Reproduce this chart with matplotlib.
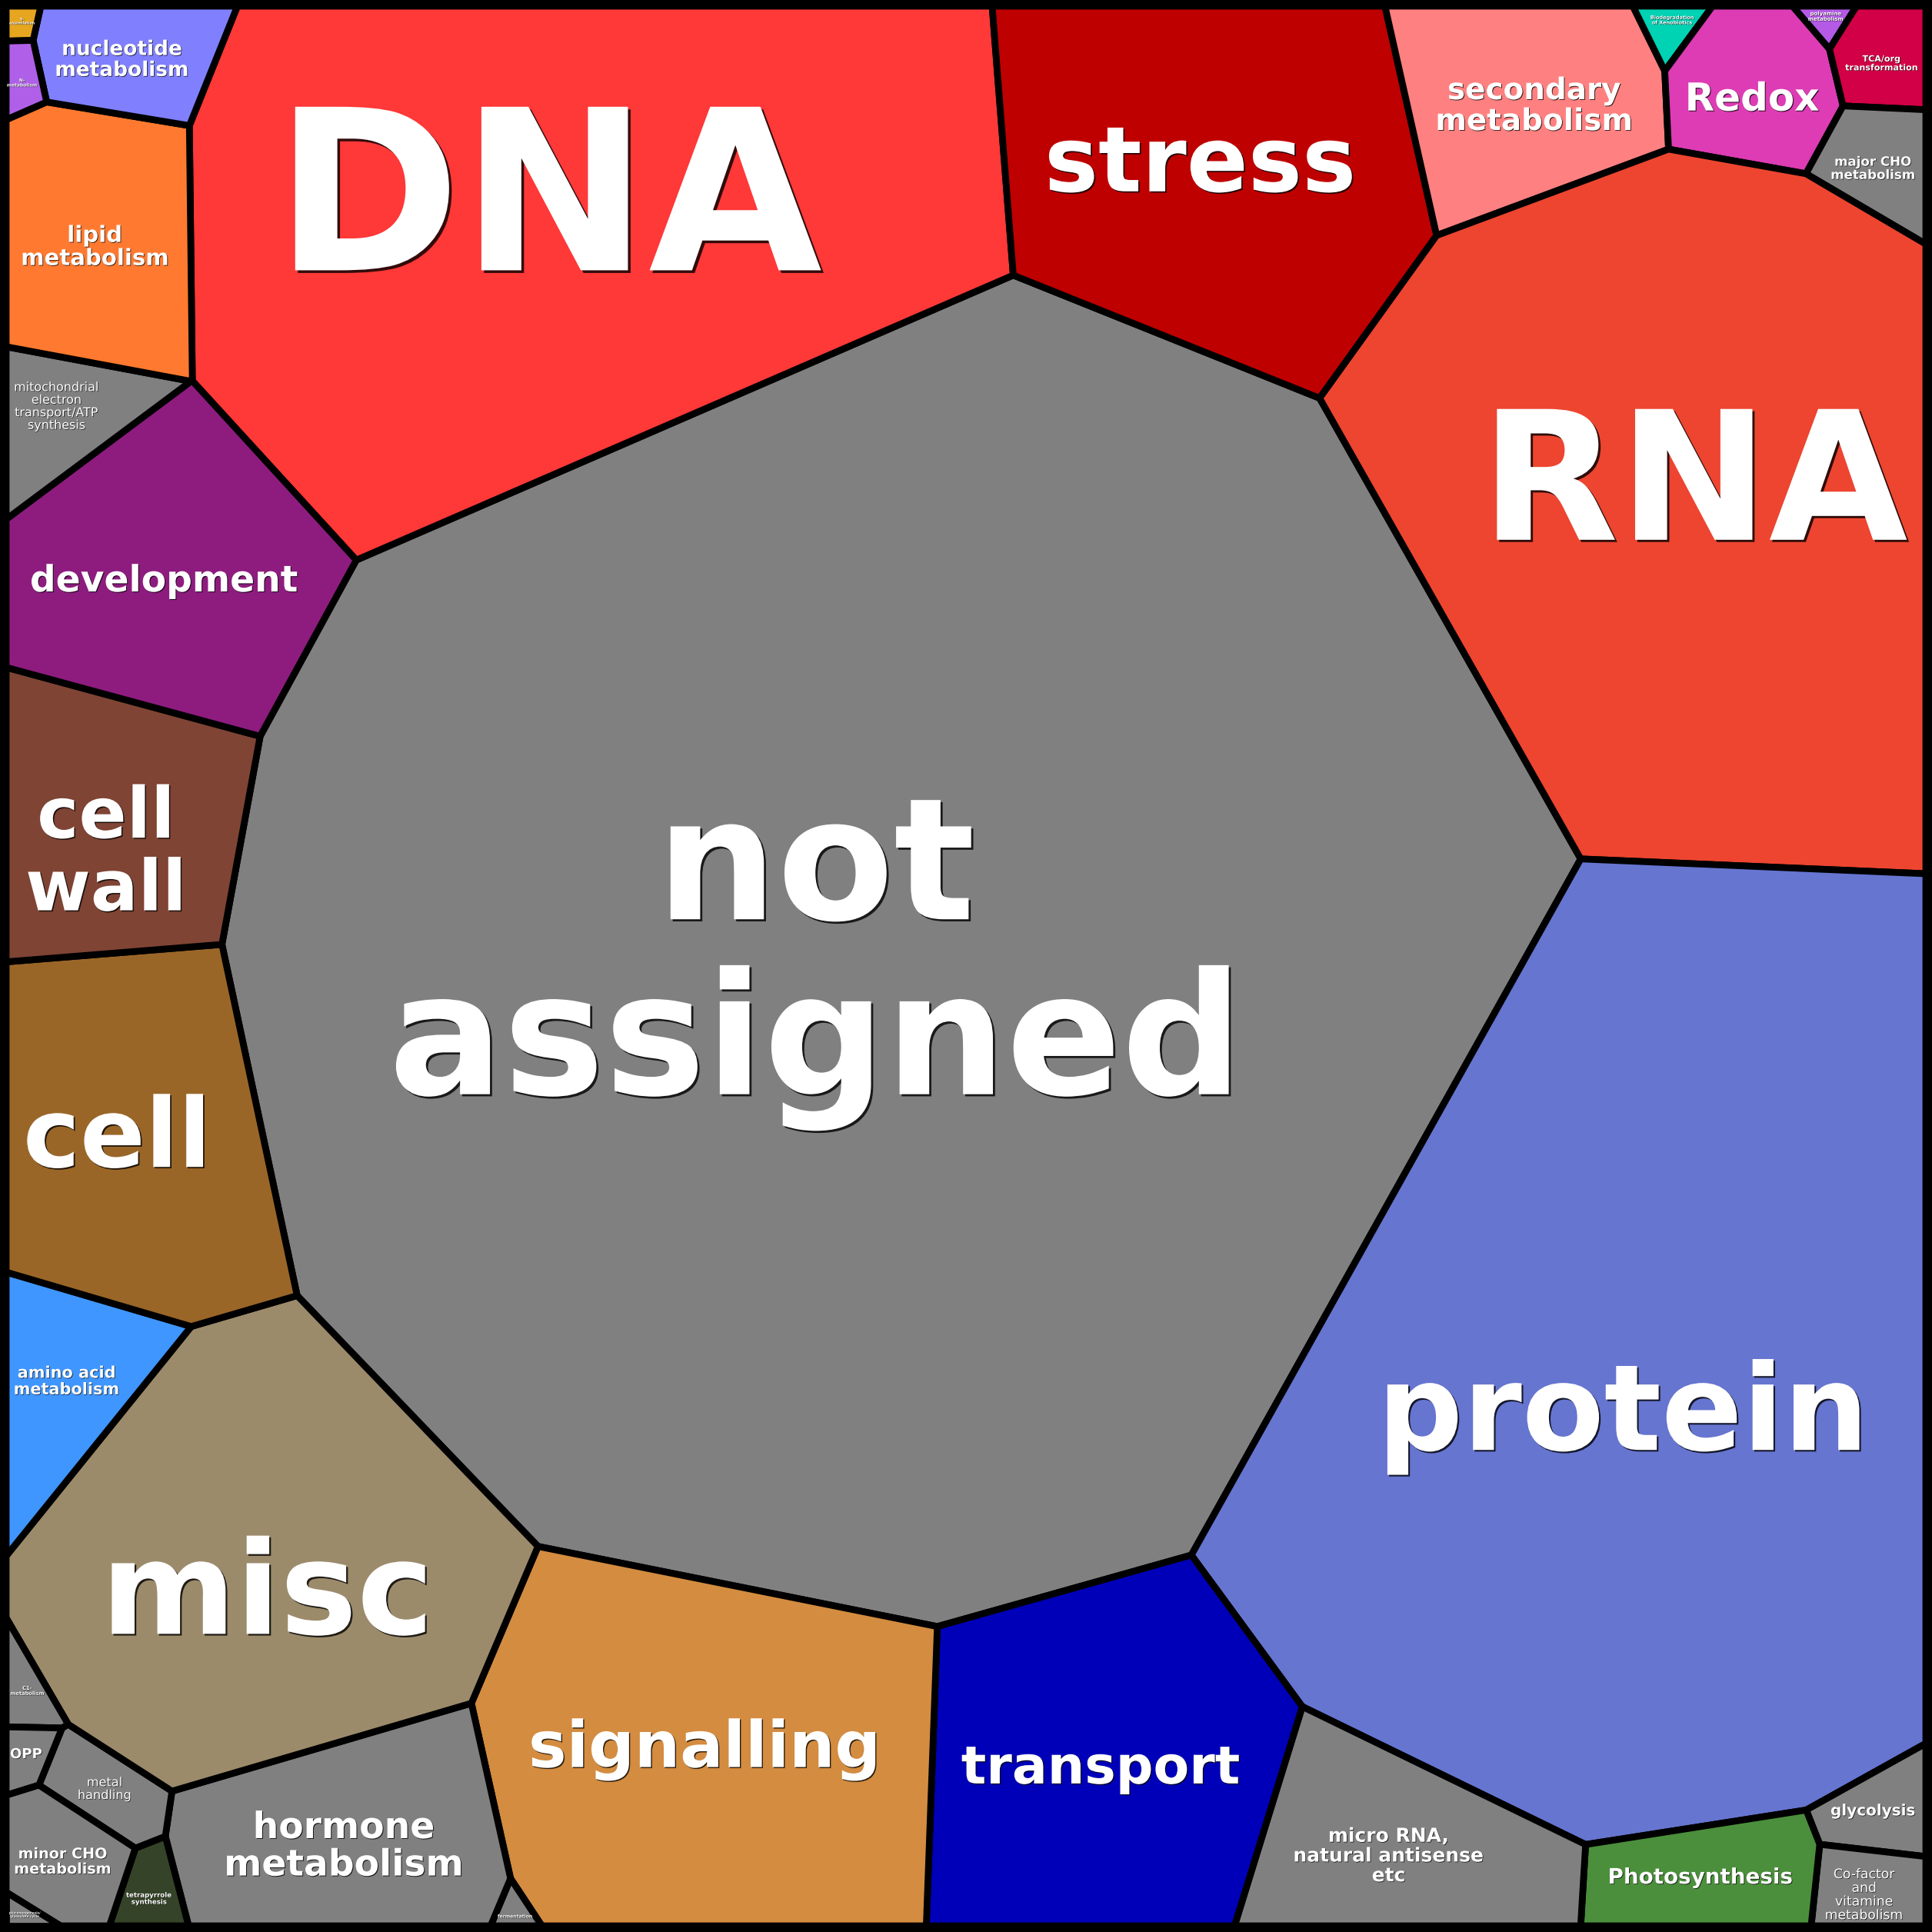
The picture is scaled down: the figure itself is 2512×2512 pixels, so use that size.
import numpy as np
import matplotlib
matplotlib.use("Agg")
import matplotlib.pyplot as plt
from matplotlib.patches import Polygon
from matplotlib.textpath import TextPath
from matplotlib.font_manager import FontProperties
import matplotlib.patheffects as pe

categories = ["not assigned", "DNA", "stress", "secondary metabolism",
              "Biodegradation of Xenobiotics", "Redox", "polyamine metabolism",
              "TCA/org transformation", "major CHO metabolism", "RNA", "protein",
              "glycolysis", "Co-factor and vitamine metabolism", "Photosynthesis",
              "micro RNA, natural antisense etc", "transport", "signalling",
              "fermentation", "hormone metabolism", "tetrapyrrole synthesis",
              "metal handling", "misc", "C1-metabolism", "OPP", "minor CHO metabolism",
              "gluconeogenesis/glyoxylate cycle", "amino acid metabolism", "cell",
              "cell wall", "development", "mitochondrial electron transport/ATP synthesis",
              "lipid metabolism", "nucleotide metabolism", "S-assimilation", "N-metabolism"]
genes = [8549, 2249, 886, 314, 17, 154, 9, 58, 72, 2201, 3495,
         56, 55, 151, 328, 738, 974, 8, 382, 30,
         58, 1117, 23, 18, 86, 6, 173, 589,
         392, 525, 105, 305, 125, 7, 16]
colors = ["#808080", "#FF3838", "#BF0000", "#FF8080", "#00D2B4", "#DD3CB4", "#B45AE6",
          "#D20046", "#808080", "#ED4530", "#6675D0", "#808080", "#808080", "#4B8F3C",
          "#808080", "#0000B8", "#D38C40", "#808080", "#808080", "#354428",
          "#808080", "#9C8B6B", "#808080", "#808080", "#808080", "#808080", "#3F96FF",
          "#9A6628", "#7F4434", "#8E1C7F", "#808080", "#FF7A30", "#8080FF", "#E6A620",
          "#B060E8"]
labels = ["not\nassigned", "DNA", "stress", "secondary\nmetabolism",
          "Biodegradation\nof Xenobiotics", "Redox", "polyamine\nmetabolism",
          "TCA/org\ntransformation", "major CHO\nmetabolism", "RNA", "protein",
          "glycolysis", "Co-factor\nand\nvitamine\nmetabolism", "Photosynthesis",
          "micro RNA,\nnatural antisense\netc", "transport", "signalling",
          "fermentation", "hormone\nmetabolism", "tetrapyrrole\nsynthesis",
          "metal\nhandling", "misc", "C1-\nmetabolism", "OPP", "minor CHO\nmetabolism",
          "gluconeogenesis/\nglyoxylate cycle", "amino acid\nmetabolism", "cell",
          "cell\nwall", "development", "mitochondrial\nelectron\ntransport/ATP\nsynthesis",
          "lipid\nmetabolism", "nucleotide\nmetabolism", "S-\nassimilation", "N-\nmetabolism"]

# seeds of the Voronoi treemap (fraction of the square, y from top)
site_x = [0.4552, 0.2886, 0.6199, 0.7864, 0.8627, 0.9057, 0.947, 0.9764, 0.9739,
          0.8663, 0.8469, 0.9717, 0.9669, 0.8872, 0.7263, 0.5732, 0.3725, 0.255,
          0.1752, 0.0682, 0.05, 0.1323, 0.0146, 0.0137, 0.0285, 0.012, 0.0249,
          0.0661, 0.0534, 0.0878, 0.0223, 0.0397, 0.0557, 0.002, 0.0026]
site_y = [0.4983, 0.1141, 0.0881, 0.0506, 0.0131, 0.0448, 0.0093, 0.0279, 0.0821,
          0.2653, 0.7174, 0.9416, 0.9833, 0.9749, 0.9651, 0.9178, 0.9104, 0.988,
          0.9545, 0.9823, 0.9361, 0.8084, 0.877, 0.9214, 0.969, 0.9957, 0.7218,
          0.5816, 0.4246, 0.2978, 0.2101, 0.117, 0.0205, 0.0085, 0.0322]

# label anchors (centre of the text block)
label_x = [0.4217, 0.2824, 0.6220, 0.7959, 0.8678, 0.9095, 0.9480, 0.9769, 0.9724,
           0.8793, 0.8421, 0.9724, 0.9679, 0.8825, 0.7202, 0.5700, 0.3639, 0.2651,
           0.1759, 0.0745, 0.0513, 0.1361, 0.0109, 0.0103, 0.0295, 0.0096, 0.0315,
           0.0578, 0.0520, 0.0822, 0.0263, 0.0462, 0.0603, 0.0083, 0.0083]
label_y = [0.4997, 0.0950, 0.0802, 0.0507, 0.0071, 0.0469, 0.0051, 0.0295, 0.0841,
           0.2439, 0.7349, 0.9403, 0.9833, 0.9750, 0.9628, 0.9191, 0.9082, 0.9949,
           0.9570, 0.9859, 0.9288, 0.8228, 0.8774, 0.9101, 0.9660, 0.9942, 0.7157,
           0.5860, 0.4384, 0.2997, 0.2086, 0.1245, 0.0270, 0.0077, 0.0398]
label_size = [159, 210, 85, 28, 4.7, 36, 5, 8, 12, 168, 112,
              14.4, 12.4, 20, 18, 49, 60, 4.4, 34, 6.2,
              11.6, 121, 4.8, 13, 13.8, 3, 15, 90,
              66, 34, 11.5, 21, 19, 3.5, 4.3]
label_weight = ["bold"] * len(labels)
for k in (12, 20, 30):
    label_weight[k] = "normal"

n = len(genes)
sx = np.array(site_x)
sy = np.array(site_y)
target = np.array(genes, float) / sum(genes)
dist = np.hypot(sx[:, None] - sx[None, :], sy[:, None] - sy[None, :])


def clip(poly, a, b, c, lab):
    # keep a*x + b*y <= c, each vertex carries the id of its outgoing edge
    out = []
    m = len(poly)
    for k in range(m):
        x1, y1, l1 = poly[k]
        x2, y2, _ = poly[(k + 1) % m]
        d1 = a * x1 + b * y1 - c
        d2 = a * x2 + b * y2 - c
        if d1 <= 0:
            out.append((x1, y1, l1))
            if d2 > 0:
                t = d1 / (d1 - d2)
                out.append((x1 + t * (x2 - x1), y1 + t * (y2 - y1), lab))
        elif d2 <= 0:
            t = d1 / (d1 - d2)
            out.append((x1 + t * (x2 - x1), y1 + t * (y2 - y1), l1))
    return out


def power_cell(i, w):
    poly = [(0.0, 0.0, -1), (1.0, 0.0, -1), (1.0, 1.0, -1), (0.0, 1.0, -1)]
    for j in range(n):
        if j == i:
            continue
        a = 2 * (sx[j] - sx[i])
        b = 2 * (sy[j] - sy[i])
        c = sx[j] ** 2 + sy[j] ** 2 - sx[i] ** 2 - sy[i] ** 2 + w[i] - w[j]
        poly = clip(poly, a, b, c, j)
        if not poly:
            break
    return poly


def measure(polys):
    A = np.zeros(n)
    J = np.zeros((n, n))
    for i, poly in enumerate(polys):
        m = len(poly)
        if m < 3:
            continue
        s = 0.0
        for k in range(m):
            x1, y1, j = poly[k]
            x2, y2, _ = poly[(k + 1) % m]
            s += x1 * y2 - x2 * y1
            if j >= 0:
                c = np.hypot(x2 - x1, y2 - y1) / (2 * dist[i, j])
                J[i, j] -= c
                J[i, i] += c
        A[i] = abs(s) / 2
    return A, J


# power weights so that every cell gets the share of its bin (Newton + backtracking)
w = np.zeros(n)
polys = [power_cell(i, w) for i in range(n)]
A, J = measure(polys)
for it in range(80):
    r = target - A
    err = np.abs(r).sum()
    if err < 1e-8:
        break
    dw = np.linalg.lstsq(J, r, rcond=None)[0]
    t = 1.0
    while True:
        w_new = w + t * dw
        p_new = [power_cell(i, w_new) for i in range(n)]
        A_new, J_new = measure(p_new)
        if (np.all(A_new > 0) and np.abs(target - A_new).sum() < err) or t < 1e-3:
            break
        t *= 0.5
    w, polys, A, J = w_new, p_new, A_new, J_new

fig = plt.figure(figsize=(25.12, 25.12), dpi=100, facecolor="black")
ax = fig.add_axes([0, 0, 1, 1])
ax.set_facecolor("black")
m = 5 / 1558
ax.set_xlim(-m, 1 + m)
ax.set_ylim(1 + m, -m)
ax.axis("off")

for i, poly in enumerate(polys):
    pts = [(p[0], p[1]) for p in poly]
    ax.add_patch(Polygon(pts, closed=True, facecolor=colors[i], edgecolor="black",
                         linewidth=6.3, joinstyle="round"))

# labels: lines ~1 em apart, ink block centred on the anchor
pt2data = (100 / 72) / (2512 / (1 + 2 * m))
for i in range(n):
    fs = label_size[i]
    prop = FontProperties(family="DejaVu Sans", weight=label_weight[i])
    lines = labels[i].split("\n")
    gap = 1.03 * fs * pt2data
    top_ext = TextPath((0, 0), lines[0], size=fs, prop=prop).get_extents()
    bot_ext = TextPath((0, 0), lines[-1], size=fs, prop=prop).get_extents()
    asc = top_ext.y1 * pt2data
    desc = -bot_ext.y0 * pt2data
    y0 = label_y[i] - ((len(lines) - 1) * gap + desc - asc) / 2
    off = 0.4 + fs * 0.01
    for k, line in enumerate(lines):
        ax.text(label_x[i], y0 + k * gap, line, ha="center", va="baseline",
                fontsize=fs, fontproperties=prop, color="white",
                path_effects=[pe.withSimplePatchShadow(offset=(off, -off),
                                                       shadow_rgbFace="black", alpha=0.8)])

fig.savefig("out.png", dpi=100, facecolor="black")
